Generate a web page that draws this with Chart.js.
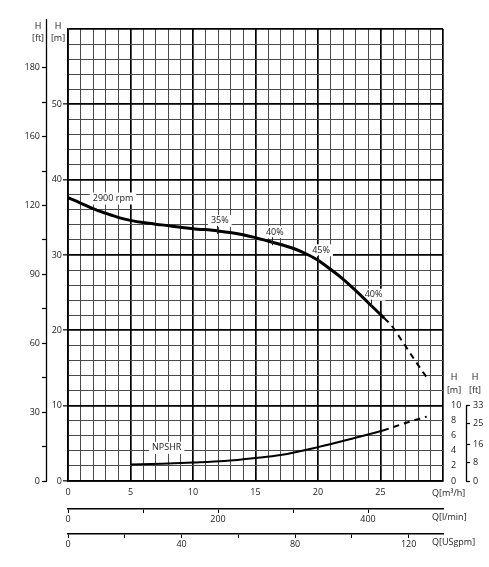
<!DOCTYPE html>
<html>
<head>
<meta charset="utf-8">
<script src="https://cdn.jsdelivr.net/npm/chart.js@4.4.1/dist/chart.umd.min.js"></script>
<style>
  html, body { margin: 0; padding: 0; background: #fff; }
  canvas { display: block; }
</style>
</head>
<body>
<canvas id="pumpChart" width="489" height="567" style="width:489px;height:567px"></canvas>
<script>
// Flow axes (main m3/h, secondary l/min and USgpm)
const qMax = 30;
const lminTicks = [0, 100, 200, 300, 400];
const lminLabels = ['0', '', '200', '', '400'];
const gpmTicks = [0, 20, 40, 60, 80, 100, 120];
const gpmLabels = ['0', '', '40', '', '80', '', '120'];

// Head axes
const hMax = 60;
const ftTicks = [0, 15, 30, 45, 60, 75, 90, 105, 120, 135, 150, 165, 180];
const ftLabels = ['0', '', '30', '', '60', '', '90', '', '120', '', '160', '', '180'];
const npshTicks = [0, 2, 4, 6, 8, 10];
const npshFtTicks = [0, 8, 16, 25, 33];

// H-Q curve, 2900 rpm
const headQ = [0, 1, 2, 3, 4, 5, 6, 7.5, 10, 12, 14, 15, 16, 17, 18, 19, 20, 21, 22, 23, 24, 25, 25.3];
const headH = [37.6, 36.9, 36.15, 35.55, 35.0, 34.6, 34.3, 34.0, 33.5, 33.2, 32.7, 32.3, 31.85, 31.4, 30.9, 30.2, 29.3, 28.1, 26.8, 25.3, 23.7, 22.1, 21.6];
const headExtQ = [25.3, 25.8, 26.8, 27.8, 28.8];
const headExtH = [21.6, 20.8, 18.4, 15.9, 13.5];

// NPSHR curve
const npshQ = [5, 7.5, 10, 12.5, 15, 17, 20, 23, 25.2];
const npshH = [2.2, 2.3, 2.45, 2.65, 3.05, 3.45, 4.5, 5.75, 6.7];
const npshExtQ = [25.2, 27, 28.7];
const npshExtH = [6.7, 7.7, 8.55];

// Efficiency marks on the H-Q curve
const effQ = [11.9, 16.3, 20.0, 24.2];
const effH = [33.2, 31.7, 29.3, 23.4];
const effText = ['35%', '40%', '45%', '40%'];

const FONT = '"Open Sans", sans-serif';
const TXT = '#1a1a1a';
const M_TO_FT = 1 / 0.3048;
const M3H_TO_LMIN = 1000 / 60;
const M3H_TO_GPM = 4.402868;

const zip = (xs, ys) => xs.map((v, i) => ({ x: v, y: ys[i] }));
const setTicks = vals => scale => { scale.ticks = vals.map(v => ({ value: v })); };

const decor = {
    id: 'decor',
    beforeDatasetsDraw(chart) {
        const { ctx, scales: { x, y } } = chart;
        ctx.save();
        ctx.font = '9px ' + FONT;
        ctx.textAlign = 'center';
        ctx.textBaseline = 'middle';
        const boxLabel = (txt, px, py) => {
            const w = ctx.measureText(txt).width + 6;
            ctx.fillStyle = '#fff';
            ctx.fillRect(px - w / 2, py - 6, w, 12);
            ctx.fillStyle = TXT;
            ctx.fillText(txt, px, py);
        };
        boxLabel('2900 rpm', x.getPixelForValue(3.6), y.getPixelForValue(37.5));
        boxLabel('NPSHR', x.getPixelForValue(7.9), y.getPixelForValue(4.4));
        effQ.forEach((q, i) => {
            boxLabel(effText[i], x.getPixelForValue(q) + 3, y.getPixelForValue(effH[i]) - 10);
        });
        ctx.restore();
    },
    afterDatasetsDraw(chart) {
        const { ctx, scales: { x, y } } = chart;
        ctx.save();
        ctx.strokeStyle = '#222';
        ctx.lineWidth = 1;
        effQ.forEach((q, i) => {
            const px = Math.round(x.getPixelForValue(q)) + 0.5;
            const py = y.getPixelForValue(effH[i]);
            ctx.beginPath();
            ctx.moveTo(px, py - 5);
            ctx.lineTo(px, py + 3);
            ctx.stroke();
        });
        ctx.restore();
    },
    afterDraw(chart) {
        const { ctx, chartArea, scales } = chart;
        const { x, x2, x3, y, yft, yR, yRft } = scales;
        ctx.save();
        // partial axis lines of the feet scales
        ctx.strokeStyle = '#000';
        ctx.lineWidth = 1.3;
        ctx.beginPath();
        ctx.moveTo(yft.right - 0.5, yft.getPixelForValue(0));
        ctx.lineTo(yft.right - 0.5, chartArea.top - 10);
        ctx.moveTo(yRft.left + 0.5, yRft.getPixelForValue(0));
        ctx.lineTo(yRft.left + 0.5, yRft.getPixelForValue(33));
        ctx.stroke();

        ctx.fillStyle = TXT;
        ctx.font = '9px ' + FONT;
        ctx.textAlign = 'center';
        ctx.textBaseline = 'middle';
        const top = chartArea.top;
        ctx.fillText('H', yft.right - 9, top - 3);
        ctx.fillText('[ft]', yft.right - 9, top + 9);
        ctx.fillText('H', y.left + 11, top - 3);
        ctx.fillText('[m]', y.left + 11, top + 9);
        const r10 = yR.getPixelForValue(10);
        ctx.fillText('H', yR.left + 11, r10 - 28);
        ctx.fillText('[m]', yR.left + 11, r10 - 15);
        ctx.fillText('H', yRft.left + 9, r10 - 28);
        ctx.fillText('[ft]', yRft.left + 9, r10 - 15);

        ctx.textAlign = 'left';
        ctx.fillText('Q[m\u00b3/h]', x.right - 11, x.top + 12);
        ctx.fillText('Q[l/min]', x.right - 11, x2.top + 8);
        ctx.fillText('Q[USgpm]', x.right - 11, x3.top + 8);
        ctx.restore();
    }
};

const gridMajor = (step) => ({
    color: c => (c.tick && c.tick.value % step === 0 ? '#000' : '#4a4a4a'),
    lineWidth: c => (c.tick && c.tick.value % step === 0 ? 1.7 : 1)
});

const tickFont = { family: FONT, size: 9 };

new Chart(document.getElementById('pumpChart'), {
    type: 'line',
    data: {
        datasets: [
            { data: zip(headQ, headH), borderColor: '#000', borderWidth: 3, pointRadius: 0, cubicInterpolationMode: 'monotone' },
            { data: zip(headExtQ, headExtH), borderColor: '#000', borderWidth: 2, borderDash: [6, 5], pointRadius: 0, cubicInterpolationMode: 'monotone' },
            { data: zip(npshQ, npshH), borderColor: '#000', borderWidth: 2, pointRadius: 0, cubicInterpolationMode: 'monotone' },
            { data: zip(npshExtQ, npshExtH), borderColor: '#000', borderWidth: 2, borderDash: [6, 5], pointRadius: 0, cubicInterpolationMode: 'monotone' }
        ]
    },
    options: {
        responsive: false,
        animation: false,
        devicePixelRatio: 1,
        layout: { padding: { top: 29, left: 0, right: 0, bottom: 0 } },
        plugins: { legend: { display: false }, tooltip: { enabled: false } },
        scales: {
            x: {
                type: 'linear', position: 'bottom', min: 0, max: qMax,
                afterFit: s => { s.height = 28; },
                ticks: {
                    stepSize: 1, maxTicksLimit: 100, autoSkip: false, maxRotation: 0,
                    font: tickFont, color: TXT, padding: 6,
                    callback: v => (v % 5 === 0 && v < qMax ? String(v) : '')
                },
                grid: { ...gridMajor(5), drawTicks: false },
                border: { display: true, color: '#000', width: 1.7 }
            },
            x2: {
                type: 'linear', position: 'bottom', min: 0, max: qMax * M3H_TO_LMIN,
                afterFit: s => { s.height = 25; },
                afterBuildTicks: setTicks(lminTicks),
                ticks: { autoSkip: false, maxRotation: 0, font: tickFont, color: TXT, padding: 1,
                    callback: (v, i) => lminLabels[i] },
                grid: { drawOnChartArea: false, drawTicks: true, tickLength: 4, tickColor: '#000', tickWidth: 1 },
                border: { display: true, color: '#000', width: 1.5 }
            },
            x3: {
                type: 'linear', position: 'bottom', min: 0, max: qMax * M3H_TO_GPM,
                afterFit: s => { s.height = 33; },
                afterBuildTicks: setTicks(gpmTicks),
                ticks: { autoSkip: false, maxRotation: 0, font: tickFont, color: TXT, padding: 1,
                    callback: (v, i) => gpmLabels[i] },
                grid: { drawOnChartArea: false, drawTicks: true, tickLength: 4, tickColor: '#000', tickWidth: 1 },
                border: { display: true, color: '#000', width: 1.5 }
            },
            y: {
                type: 'linear', position: 'left', min: 0, max: hMax,
                afterFit: s => { s.width = 21; },
                ticks: {
                    stepSize: 2, maxTicksLimit: 100, autoSkip: false, font: tickFont, color: TXT, padding: 1,
                    callback: v => (v % 10 === 0 && v < hMax ? String(v) : '')
                },
                grid: {
                    ...gridMajor(10), drawTicks: true, tickLength: 5,
                    tickColor: c => (c.tick && c.tick.value % 10 === 0 && c.tick.value < hMax ? '#000' : 'rgba(0,0,0,0)'),
                    tickWidth: 1.2
                },
                border: { display: true, color: '#000', width: 1.7 }
            },
            yft: {
                type: 'linear', position: 'left', min: 0, max: hMax * M_TO_FT,
                afterFit: s => { s.width = 47; },
                afterBuildTicks: setTicks(ftTicks),
                ticks: { autoSkip: false, font: tickFont, color: TXT, padding: 2,
                    callback: (v, i) => ftLabels[i] },
                grid: { drawOnChartArea: false, drawTicks: true, tickLength: 5, tickColor: '#000', tickWidth: 1.2 },
                border: { display: false }
            },
            yR: {
                type: 'linear', position: 'right', min: 0, max: hMax,
                afterFit: s => { s.width = 23; },
                afterBuildTicks: setTicks(npshTicks),
                ticks: { autoSkip: false, font: tickFont, color: TXT, padding: 8 },
                grid: { drawOnChartArea: false, drawTicks: false },
                border: { display: false }
            },
            yRft: {
                type: 'linear', position: 'right', min: 0, max: hMax * M_TO_FT,
                afterFit: s => { s.width = 23; },
                afterBuildTicks: setTicks(npshFtTicks),
                ticks: { autoSkip: false, font: tickFont, color: TXT, padding: 3 },
                grid: { drawOnChartArea: false, drawTicks: true, tickLength: 4, tickColor: '#000', tickWidth: 1.2 },
                border: { display: false }
            }
        }
    },
    plugins: [decor]
});
</script>
</body>
</html>
